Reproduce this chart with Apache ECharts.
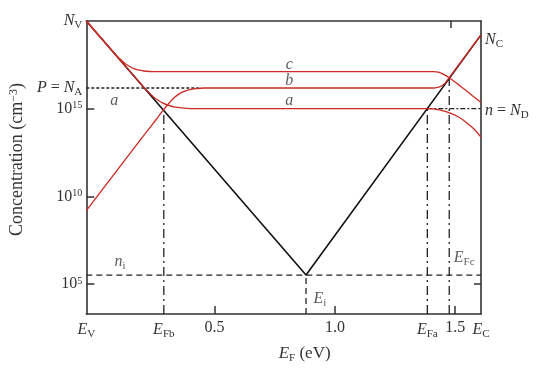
<!DOCTYPE html>
<html><head><meta charset="utf-8">
<script src="https://cdn.jsdelivr.net/npm/echarts@6/dist/echarts.min.js"></script>
<style>html,body{margin:0;padding:0;background:#fff}#c{width:546px;height:369px}</style>
</head><body><div id="c"></div>
<script>
// ---- data: x = Fermi level E_F (eV), y = log10 concentration (cm^-3) ----
const xRange = [-0.033, 1.607];      // E_V ... E_C
const yRange = [3.3, 20];
const E_V = -0.033, E_Fb = 0.289, E_i = 0.880, E_Fa = 1.384, E_Fc = 1.475, E_C = 1.607;
const logNV = 20.0, logNC = 19.21, logNA = 16.18, logND = 15.0, logNi = 5.52;

// black: intrinsic p (left) and n (right) lines
const intrinsicV = [[E_V, logNV], [E_i, logNi], [E_C, logNC]];
// red curve c
const curveC = [[-0.033,20.0],[0.083,18.17],[0.099,17.93],[0.116,17.72],[0.132,17.53],
  [0.149,17.39],[0.165,17.28],[0.182,17.21],[0.207,17.15],[0.240,17.11],[1.409,17.11],[1.430,17.08],
  [1.450,16.97],[1.475,16.77],[1.508,16.43],[1.541,16.08],[1.574,15.71],[1.607,15.36]];
// red curve a
const curveA = [[-0.033,20.0],[0.157,16.99],[0.198,16.34],[0.223,15.98],[0.244,15.70],
  [0.265,15.48],[0.285,15.32],[0.306,15.21],[0.331,15.11],[0.364,15.05],[0.405,15.01],[0.446,15.0],
  [1.397,15.0],[1.422,14.96],[1.446,14.89],[1.479,14.75],[1.512,14.54],[1.546,14.22],[1.579,13.83],[1.607,13.38]];
// red curve b
const curveB = [[-0.033,9.19],[0.198,13.34],[0.240,14.08],[0.265,14.52],
  [0.285,14.89],[0.306,15.24],[0.326,15.55],[0.347,15.79],[0.368,15.96],[0.393,16.08],[0.422,16.15],
  [0.459,16.18],[1.397,16.18],[1.417,16.19],[1.434,16.24],[1.446,16.32],[1.459,16.47],[1.475,16.77],[1.607,19.21]];

// tick labels
const xLabelValues = [E_V, E_Fb, 0.5, 1.0, E_Fa, 1.5, E_C];
const xLabelTexts = ['{i|E}{s|V}', '{i|E}{s|Fb}', '0.5', '1.0', '{i|E}{s|Fa}', '1.5', '{i|E}{s|C}'];
const xTickValues = [0.5, 1.0, 1.5];
const yLabelValues = [20, logNA, 15, 10, 5];
const yLabelTexts = ['{i|N}{s|V}', '{i|P} = {i|N}{s|A}', '10{p|15}', '10{p|10}', '10{p|5}'];
const yTickValues = [15, 10, 5];
const rightLabelValues = [18.95, 14.91];
const rightLabelTexts = ['{i|N}{s|C}', '{i|n} = {i|N}{s|D}'];

// in-plot annotations
const annotationTexts = ['{i|c}', '{i|b}', '{i|a}', '{i|a}', '{i|n}{s|i}', '{i|E}{s|i}', '{i|E}{s|Fc}'];
const annotationAt = [[0.810,17.51],[0.810,16.57],[0.810,15.44],[0.083,15.45],[0.107,6.30],[0.938,4.15],[1.537,6.53]];

const FONT = '"Liberation Serif", "DejaVu Serif", serif';
const TXT = '#333';
const rich = {
  i: {fontFamily: FONT, fontStyle: 'italic', fontSize: 16, color: TXT, lineHeight: 20},
  s: {fontFamily: FONT, fontSize: 11, color: TXT, verticalAlign: 'bottom', lineHeight: 12},
  p: {fontFamily: FONT, fontSize: 10, color: TXT, verticalAlign: 'top', lineHeight: 12}
};
function lookup(vals, texts) {
  return v => { const k = vals.findIndex(t => Math.abs(t - v) < 1e-6); return k < 0 ? '' : texts[k]; };
}
const axisLineStyle = {color: '#333', width: 1.6};
const RED = '#cc2a22';
function refLine(data, type) {
  return {type: 'line', data, showSymbol: false, silent: true, z: 2,
    lineStyle: {color: '#222', width: 1.3, type}};
}
function redLine(data) {
  return {type: 'line', data, showSymbol: false, z: 4, smooth: 0.15,
    lineStyle: {color: RED, width: 1.3}};
}

const chart = echarts.init(document.getElementById('c'), null, {renderer: 'canvas'});
chart.setOption({
  animation: false,
  backgroundColor: '#fff',
  grid: {left: 84, right: 65, top: 21, bottom: 53},
  xAxis: [{
    type: 'value', min: xRange[0], max: xRange[1], position: 'bottom',
    axisLine: {show: true, onZero: false, lineStyle: axisLineStyle},
    axisTick: {show: true, inside: true, length: 8, customValues: xTickValues, lineStyle: {color: '#333', width: 1.5}},
    axisLabel: {customValues: xLabelValues, formatter: lookup(xLabelValues, xLabelTexts), margin: 6,
      fontFamily: FONT, fontSize: 16, color: TXT, rich, hideOverlap: false},
    splitLine: {show: false},
    name: '{i|E}{s|F} (eV)', nameLocation: 'middle', nameGap: 30,
    nameTextStyle: {fontFamily: FONT, fontSize: 17, color: TXT, padding: [0, 0, 0, 42],
      rich: {i: Object.assign({}, rich.i, {fontSize: 17}), s: rich.s}}
  }, {
    type: 'value', min: xRange[0], max: xRange[1], position: 'top',
    axisLine: {show: true, onZero: false, lineStyle: axisLineStyle},
    axisTick: {show: true, inside: true, length: 7, customValues: [1.48], lineStyle: {color: '#333', width: 1.5}},
    axisLabel: {show: false}, splitLine: {show: false}
  }],
  yAxis: [{
    type: 'value', min: yRange[0], max: yRange[1], position: 'left',
    axisLine: {show: true, onZero: false, lineStyle: axisLineStyle},
    axisTick: {show: true, inside: true, length: 8, customValues: yTickValues, lineStyle: {color: '#333', width: 1.5}},
    axisLabel: {customValues: yLabelValues, formatter: lookup(yLabelValues, yLabelTexts), margin: 4,
      fontFamily: FONT, fontSize: 16, color: TXT, rich, hideOverlap: false},
    splitLine: {show: false},
    name: 'Concentration (cm{p|−3})', nameLocation: 'middle', nameRotate: 90, nameGap: 58,
    nameTextStyle: {fontFamily: FONT, fontSize: 18, color: TXT, padding: [0, 0, 0, 16],
      rich: {p: {fontFamily: FONT, fontSize: 12, color: TXT, verticalAlign: 'top', lineHeight: 14}}}
  }, {
    type: 'value', min: yRange[0], max: yRange[1], position: 'right',
    axisLine: {show: true, onZero: false, lineStyle: axisLineStyle},
    axisTick: {show: true, inside: true, length: 7, customValues: [5], lineStyle: {color: '#333', width: 1.5}},
    axisLabel: {customValues: rightLabelValues, formatter: lookup(rightLabelValues, rightLabelTexts), margin: 4,
      fontFamily: FONT, fontSize: 16, color: TXT, rich, hideOverlap: false},
    splitLine: {show: false}
  }],
  series: [
    refLine([[E_V, logNi], [E_C, logNi]], [6, 4]),
    refLine([[E_i, yRange[0]], [E_i, logNi]], [6, 4]),
    refLine([[E_V, logNA], [0.434, logNA]], [3, 2]),
    refLine([[E_Fa, logND], [E_C, logND]], [5, 2, 2, 2]),
    refLine([[E_Fb, yRange[0]], [E_Fb, 14.89]], [9, 4, 2, 4]),
    refLine([[E_Fa, yRange[0]], [E_Fa, logND]], [9, 4, 2, 4]),
    refLine([[E_Fc, yRange[0]], [E_Fc, 16.77]], [9, 4, 2, 4]),
    {type: 'line', data: intrinsicV, showSymbol: false, z: 3, lineStyle: {color: '#111', width: 1.6}},
    redLine(curveC),
    redLine(curveA),
    redLine(curveB),
    {type: 'scatter', symbolSize: 0, z: 5, silent: true,
      data: annotationAt.map((p, k) => ({value: p, label: {formatter: annotationTexts[k]}})),
      label: {show: true, position: 'inside', rich, color: TXT}}
  ]
});
</script></body></html>
